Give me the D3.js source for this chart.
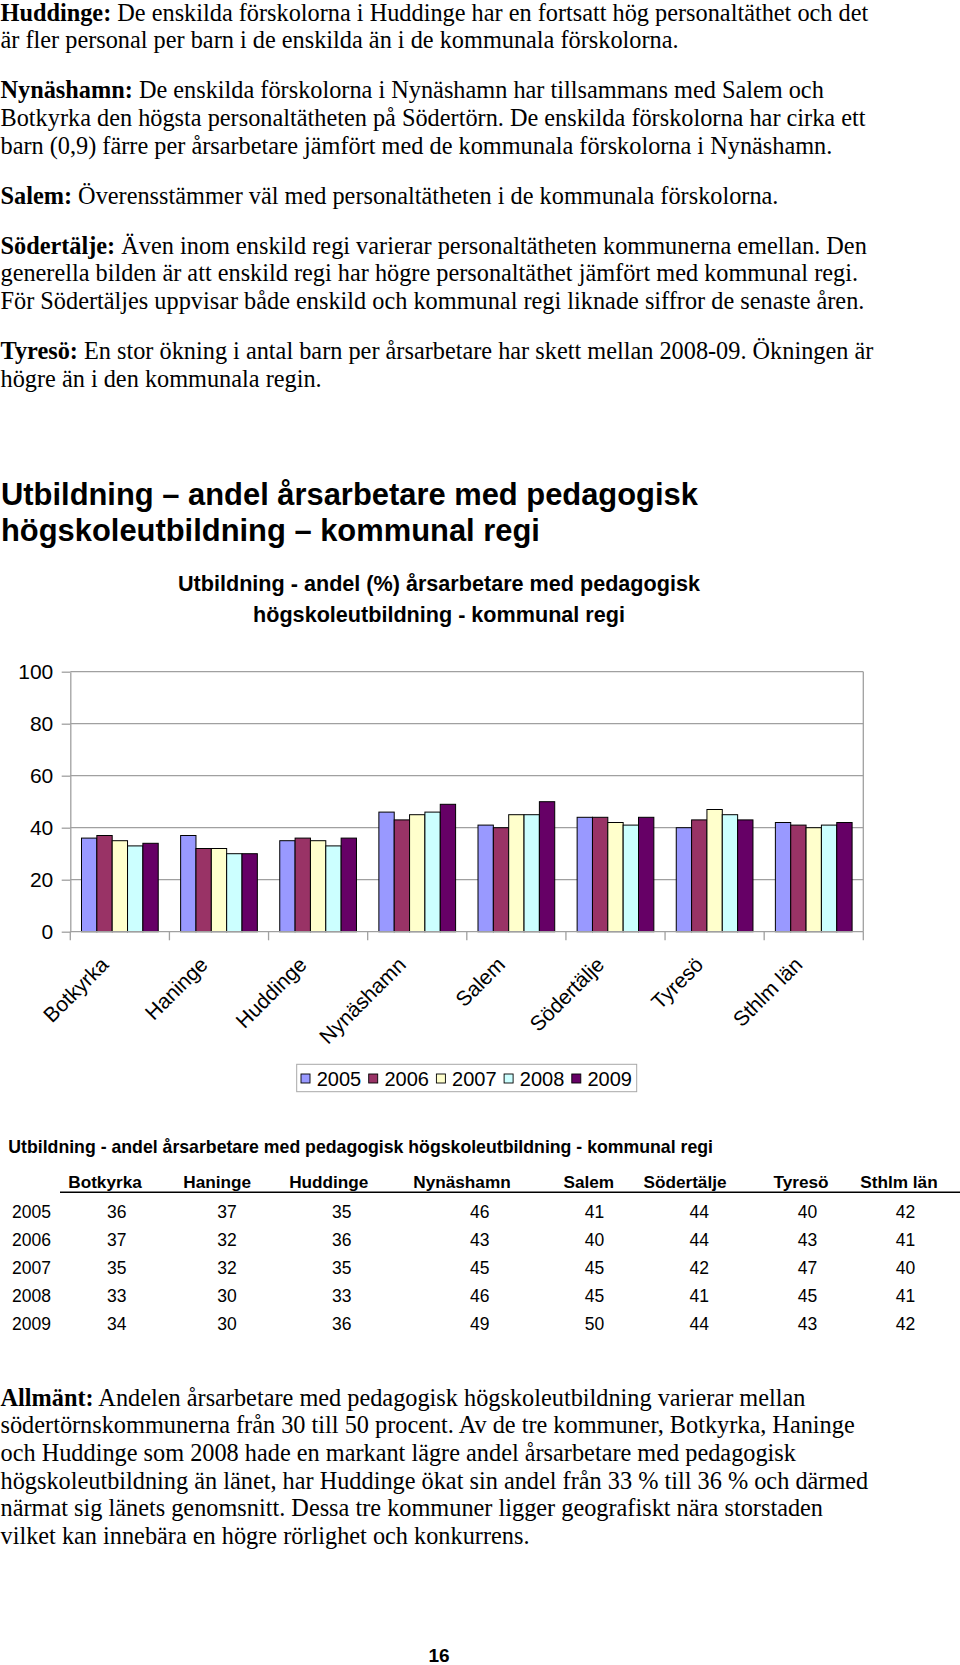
<!DOCTYPE html>
<html><head><meta charset="utf-8">
<script src="https://cdn.jsdelivr.net/npm/d3@7"></script>
<style>body{margin:0;background:#fff} svg{display:block} text{white-space:pre}</style>
</head><body><svg id="c" width="960" height="1665"></svg>
<script>
// ---- data ----
const categories = ["Botkyrka","Haninge","Huddinge","Nynäshamn","Salem","Södertälje","Tyresö","Sthlm län"];
const years = ["2005","2006","2007","2008","2009"];
const v2005 = [36,37,35,46,41,44,40,42];
const v2006 = [37,32,36,43,40,44,43,41];
const v2007 = [35,32,35,45,45,42,47,40];
const v2008 = [33,30,33,46,45,41,45,41];
const v2009 = [34,30,36,49,50,44,43,42];
const seriesValues = [v2005,v2006,v2007,v2008,v2009];
const yTicks = [0,20,40,60,80,100];
const colors = ["#9999FF","#993366","#FFFFCC","#CCFFFF","#660066"];

const topLines = [
  ["Huddinge:"," De enskilda förskolorna i Huddinge har en fortsatt hög personaltäthet och det"],
  ["","är fler personal per barn i de enskilda än i de kommunala förskolorna."],
  ["Nynäshamn:"," De enskilda förskolorna i Nynäshamn har tillsammans med Salem och"],
  ["","Botkyrka den högsta personaltätheten på Södertörn. De enskilda förskolorna har cirka ett"],
  ["","barn (0,9) färre per årsarbetare jämfört med de kommunala förskolorna i Nynäshamn."],
  ["Salem:"," Överensstämmer väl med personaltätheten i de kommunala förskolorna."],
  ["Södertälje:"," Även inom enskild regi varierar personaltätheten kommunerna emellan. Den"],
  ["","generella bilden är att enskild regi har högre personaltäthet jämfört med kommunal regi."],
  ["","För Södertäljes uppvisar både enskild och kommunal regi liknade siffror de senaste åren."],
  ["Tyresö:"," En stor ökning i antal barn per årsarbetare har skett mellan 2008-09. Ökningen är"],
  ["","högre än i den kommunala regin."]
];
const topY = [20.5,48.3,98.2,126,153.7,203.6,253.5,281.3,309,359,386.8];
const bottomLines = [
  ["Allmänt:"," Andelen årsarbetare med pedagogisk högskoleutbildning varierar mellan"],
  ["","södertörnskommunerna från 30 till 50 procent. Av de tre kommuner, Botkyrka, Haninge"],
  ["","och Huddinge som 2008 hade en markant lägre andel årsarbetare med pedagogisk"],
  ["","högskoleutbildning än länet, har Huddinge ökat sin andel från 33 % till 36 % och därmed"],
  ["","närmat sig länets genomsnitt. Dessa tre kommuner ligger geografiskt nära storstaden"],
  ["","vilket kan innebära en högre rörlighet och konkurrens."]
];
const bottomY = [1405.5,1433.2,1461,1488.7,1516.4,1544.2];

// ---- drawing ----
const svg = d3.select("#c");
svg.append("rect").attr("width",960).attr("height",1665).attr("fill","#fff");
const serif = "'Liberation Serif','Times New Roman',serif";
const sans = "'Liberation Sans',Arial,Helvetica,sans-serif";

function para(lines, ys){
  lines.forEach((l,i)=>{
    const t = svg.append("text").attr("x",0.5).attr("y",ys[i])
      .attr("font-family",serif).attr("font-size",24.3).attr("fill","#000");
    if(l[0]) t.append("tspan").attr("font-weight","bold").text(l[0]);
    t.append("tspan").text(l[1]);
  });
}
para(topLines, topY);
para(bottomLines, bottomY);

// heading
const heading = ["Utbildning – andel årsarbetare med pedagogisk","högskoleutbildning – kommunal regi"];
heading.forEach((h,i)=>svg.append("text").attr("x",1).attr("y",505+36*i)
  .attr("font-family",sans).attr("font-weight","bold").attr("font-size",30.9).text(h));

// chart title
const ctitle = ["Utbildning - andel (%) årsarbetare med pedagogisk","högskoleutbildning - kommunal regi"];
ctitle.forEach((h,i)=>svg.append("text").attr("x",439).attr("y",591+30.5*i)
  .attr("text-anchor","middle").attr("font-family",sans).attr("font-weight","bold")
  .attr("font-size",21.6).text(h));

// scales
const pLeft = 70.3, pRight = 863.3, pTop = 671.7, pBottom = 931.7;
const x0 = d3.scaleBand().domain(categories).range([pLeft,pRight]).paddingInner(0.226).paddingOuter(0.113);
const x1 = d3.scaleBand().domain(years).range([0,x0.bandwidth()]);
const y = d3.scaleLinear().domain([0,100]).range([pBottom,pTop]);
const gridColor = "#a0a0a0";

// gridlines
svg.append("g").selectAll("line").data(yTicks.filter(d=>d>0)).join("line")
  .attr("x1",pLeft).attr("x2",pRight).attr("y1",d=>y(d)).attr("y2",d=>y(d))
  .attr("stroke",gridColor).attr("stroke-width",1.3);
svg.append("line").attr("x1",pRight).attr("x2",pRight).attr("y1",pTop).attr("y2",pBottom)
  .attr("stroke",gridColor).attr("stroke-width",1.3);

// bars
const gCat = svg.append("g").selectAll("g").data(categories).join("g")
  .attr("transform",c=>`translate(${x0(c)},0)`);
gCat.selectAll("rect").data((c,ci)=>years.map((yr,si)=>({yr,si,v:seriesValues[si][ci]}))).join("rect")
  .attr("x",d=>x1(d.yr)).attr("width",x1.bandwidth())
  .attr("y",d=>y(d.v)).attr("height",d=>y(0)-y(d.v))
  .attr("fill",d=>colors[d.si]).attr("stroke","#000").attr("stroke-width",1);

// y axis
const yAxis = svg.append("g").attr("transform",`translate(${pLeft},0)`)
  .call(d3.axisLeft(y).tickValues(yTicks).tickSize(8.6).tickSizeOuter(0).tickPadding(8.4));
yAxis.selectAll("path,line").attr("stroke",gridColor).attr("stroke-width",1.3);
yAxis.selectAll("text").attr("font-family",sans).attr("font-size",21).attr("fill","#000");

// x axis
const step = x0.step();
const bounds = d3.range(categories.length+1).map(i=>pLeft+i*step);
svg.append("line").attr("x1",pLeft).attr("x2",pRight).attr("y1",pBottom).attr("y2",pBottom)
  .attr("stroke",gridColor).attr("stroke-width",1.3);
svg.append("g").selectAll("line").data(bounds).join("line")
  .attr("x1",d=>d).attr("x2",d=>d).attr("y1",pBottom).attr("y2",pBottom+8.6)
  .attr("stroke",gridColor).attr("stroke-width",1.3);
svg.append("g").selectAll("text").data(categories).join("text")
  .attr("transform",c=>`translate(${x0(c)+x0.bandwidth()/2-10},966) rotate(-45)`)
  .attr("text-anchor","end").attr("font-family",sans).attr("font-size",21).text(c=>c);

// legend
svg.append("rect").attr("x",296.7).attr("y",1064.3).attr("width",340).attr("height",27.4)
  .attr("fill","#fff").attr("stroke","#a8a8a8").attr("stroke-width",1);
const lg = svg.append("g").selectAll("g").data(years).join("g")
  .attr("transform",(d,i)=>`translate(${301+i*67.7},0)`);
lg.append("rect").attr("x",0).attr("y",1074).attr("width",9).attr("height",9)
  .attr("fill",(d,i)=>colors[i]).attr("stroke","#000").attr("stroke-width",0.9);
lg.append("text").attr("x",15.7).attr("y",1085.7).attr("font-family",sans).attr("font-size",20).text(d=>d);

// table
svg.append("text").attr("x",8.3).attr("y",1153).attr("font-family",sans).attr("font-weight","bold")
  .attr("font-size",17.7).text("Utbildning - andel årsarbetare med pedagogisk högskoleutbildning - kommunal regi");
const headX = [105,217.2,328.8,462,588.8,685,801,899];
const valX = [116.7,227,341.7,479.7,594.5,699.2,807.5,905.5];
svg.append("g").selectAll("text").data(categories).join("text")
  .attr("x",(d,i)=>headX[i]).attr("y",1188).attr("text-anchor","middle")
  .attr("font-family",sans).attr("font-weight","bold").attr("font-size",17.2).text(d=>d);
svg.append("line").attr("x1",60).attr("x2",960).attr("y1",1192.3).attr("y2",1192.3)
  .attr("stroke","#000").attr("stroke-width",1.6);
const rows = svg.append("g").selectAll("g").data(years).join("g")
  .attr("transform",(d,i)=>`translate(0,${1217.5+28*i})`);
rows.append("text").attr("x",12).attr("y",0).attr("font-family",sans).attr("font-size",17.5).text(d=>d);
rows.selectAll("text.v").data((d,i)=>seriesValues[i]).join("text").attr("class","v")
  .attr("x",(d,i)=>valX[i]).attr("y",0).attr("text-anchor","middle")
  .attr("font-family",sans).attr("font-size",17.5).text(d=>d);

// page number
svg.append("text").attr("x",439).attr("y",1662).attr("text-anchor","middle")
  .attr("font-family",sans).attr("font-weight","bold").attr("font-size",19).text("16");
</script>
</body></html>
